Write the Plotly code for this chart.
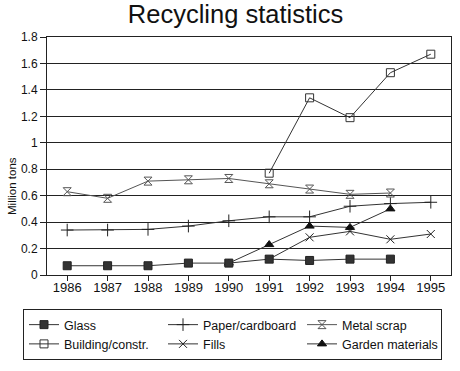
import plotly.graph_objects as go

years = ["1986", "1987", "1988", "1989", "1990", "1991", "1992", "1993", "1994", "1995"]

glass = [0.07, 0.07, 0.07, 0.09, 0.09, 0.12, 0.11, 0.12, 0.12, None]
paper = [0.34, 0.34, 0.345, 0.37, 0.41, 0.44, 0.44, 0.52, 0.54, 0.55]
metal = [0.63, 0.58, 0.71, 0.72, 0.73, 0.69, 0.65, 0.61, 0.62, None]
building = [None, None, None, None, None, 0.77, 1.34, 1.19, 1.53, 1.67]
fills = [None, None, None, None, None, 0.12, 0.285, 0.33, 0.27, 0.31]
garden = [None, None, None, None, 0.09, 0.23, 0.37, 0.36, 0.50, None]

FONT = "Arial, Liberation Sans, sans-serif"

fig = go.Figure()

def add(name, y, symbol, color, lcolor, size, rank, fill=None, lw=1):
    fig.add_trace(go.Scatter(
        x=years, y=y, name=name, mode="lines+markers",
        line=dict(color=lcolor, width=1),
        marker=dict(symbol=symbol, size=size, color=fill if fill else color,
                    line=dict(color=color, width=lw)),
        legendrank=rank, connectgaps=False,
    ))

add("Paper/cardboard", paper, "cross-thin", "#222222", "#333333", 9, 2)
add("Metal scrap", metal, "hourglass-open", "#555555", "#555555", 8, 3)
add("Building/constr.", building, "square-open", "#333333", "#333333", 8, 4)
add("Fills", fills, "x-thin", "#222222", "#333333", 8, 5)
add("Garden materials", garden, "triangle-up", "#111111", "#333333", 8, 6, fill="#111111")
add("Glass", glass, "square", "#222222", "#333333", 8, 1, fill="#333333")

W, H = 460, 371
PL, PR, PT, PB = 47, 451, 37, 275  # plot area in pixels
L, T, R, B = PL, PT, W - PR, H - PB
pw, ph = PR - PL, PB - PT

def px_x(x):
    return (x - PL) / pw

def px_y(y):
    return (PB - y) / ph

fig.update_layout(
    width=W, height=H,
    margin=dict(l=L, r=R, t=T, b=B, autoexpand=False),
    paper_bgcolor="white", plot_bgcolor="white",
    font=dict(family=FONT, size=12, color="#111111"),
    title=dict(text="Recycling statistics", x=235.5 / W, xanchor="center", xref="container",
               y=1 - 14 / H, yanchor="middle",
               font=dict(family=FONT, size=25.5, color="#111111")),
    showlegend=True,
    legend=dict(orientation="h", x=px_x(23), xanchor="left", y=px_y(309), yanchor="top",
                bordercolor="#222222", borderwidth=1, bgcolor="white",
                entrywidth=94, entrywidthmode="pixels", traceorder="normal",
                font=dict(family=FONT, size=12.5, color="#111111"),
                tracegroupgap=0, itemwidth=30),
    xaxis=dict(type="category", range=[-0.5, 9.5], showgrid=False,
               showline=True, linecolor="#222222", linewidth=1, mirror=True,
               ticks="outside", ticklen=5, tickcolor="#222222",
               ticklabelstandoff=-5,
               tickfont=dict(size=13)),
    yaxis=dict(range=[0, 1.8], dtick=0.2, showgrid=True, gridcolor="#222222", gridwidth=1,
               showline=True, linecolor="#222222", linewidth=1, mirror=True,
               ticks="outside", ticklen=6, tickcolor="#222222",
               zeroline=False, tickfont=dict(size=12)),
    annotations=[dict(text="Million tons", xref="paper", yref="paper",
                      x=px_x(12), y=px_y(186), xanchor="center", yanchor="middle",
                      textangle=-90, showarrow=False,
                      font=dict(family=FONT, size=11.5, color="#111111"))],
)

fig.write_html("out.html",
               config={"displayModeBar": False, "staticPlot": True},
               post_script="document.body.style.margin='0';document.body.style.overflow='hidden';")
